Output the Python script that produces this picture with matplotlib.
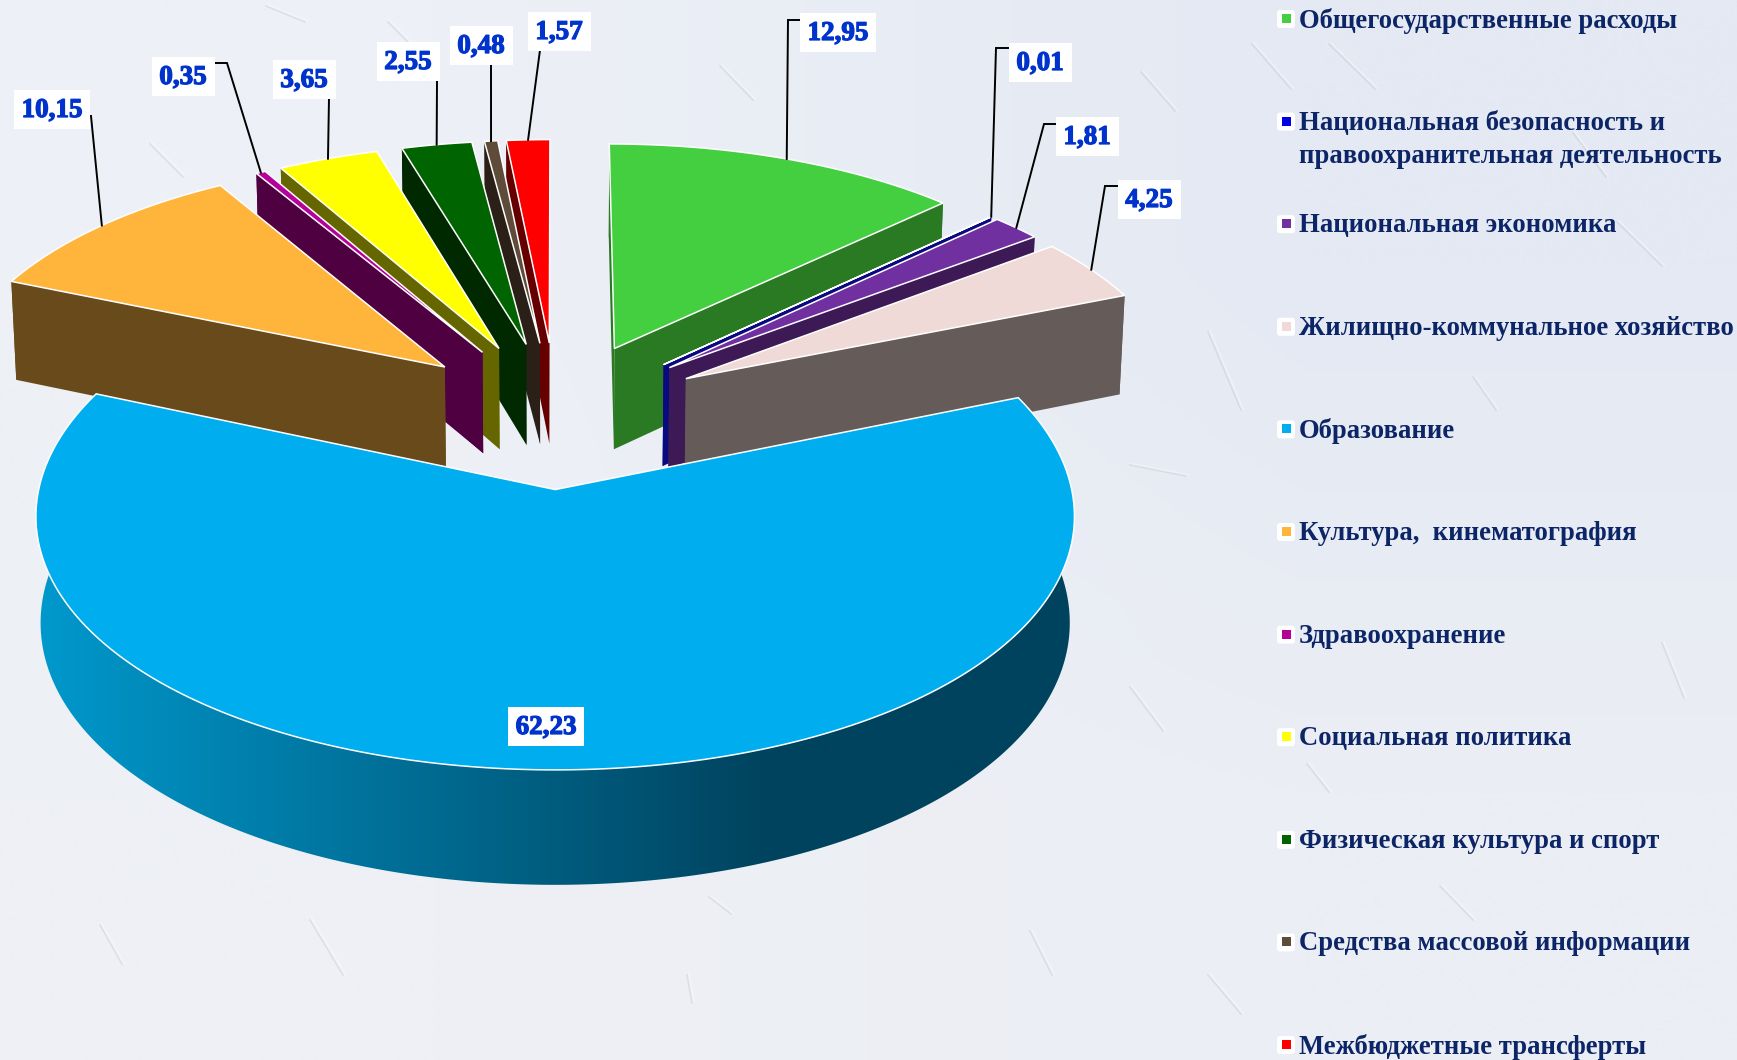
# -*- coding: utf-8 -*-
# Exploded 3D pie of budget shares, drawn by hand on a pixel-sized axes

import numpy as np
import matplotlib
matplotlib.use("Agg")
import matplotlib.pyplot as plt
import matplotlib.patheffects as pe
from matplotlib.colors import LinearSegmentedColormap, to_rgb
from matplotlib.patches import Polygon, Rectangle, FancyBboxPatch

# Chart data
categories = ["Общегосударственные расходы",
              "Национальная безопасность и\nправоохранительная деятельность",
              "Национальная экономика",
              "Жилищно-коммунальное хозяйство",
              "Образование",
              "Культура,  кинематография",
              "Здравоохранение",
              "Социальная политика",
              "Физическая культура и спорт",
              "Средства массовой информации",
              "Межбюджетные трансферты"]
values = [12.95, 0.01, 1.81, 4.25, 62.23, 10.15, 0.35, 3.65, 2.55, 0.48, 1.57]
value_labels = ["12,95", "0,01", "1,81", "4,25", "62,23", "10,15", "0,35", "3,65", "2,55", "0,48", "1,57"]

# Slice colours
top_colors = ["#43CF3F", "#0000E6", "#7030A0", "#F0DAD8", "#00AEEF", "#FFB53B",
              "#B5009A", "#FFFF00", "#006400", "#5F4B3A", "#FF0000"]
side_colors = ["#2A7A24", "#0A0A80", "#3D1A56", "#655B59", "#00435E", "#694A1B",
               "#4F0040", "#666600", "#002900", "#2B2018", "#660000"]

# Label boxes and leader line bends, in pixels
label_x = [838, 1040, 1087, 1149, 546, 52, 183, 304, 408, 481, 559]
label_y = [32, 62, 136, 199, 726, 109, 76, 79, 61, 45, 31]
leader_bends = [[(788, 20), (800, 20)], [(996, 48), (1008, 48)], [(1044, 124), (1056, 124)],
                [(1105, 186), (1117, 186)], None, [(91, 116)], [(227, 63), (215, 63)],
                [(329, 98)], [(437, 81)], [(491, 65)], [(540, 50), (552, 50)]]

# Faint brush marks of the paper background, in pixels
strokes = [(1141, 72, 1175, 111), (150, 144, 183, 177), (709, 897, 731, 914), (100, 925, 122, 964),
           (1208, 332, 1241, 410), (1473, 377, 1496, 410), (1662, 643, 1684, 698), (1307, 764, 1329, 792),
           (1252, 44, 1291, 89), (1329, 44, 1375, 89), (1573, 133, 1606, 177), (1617, 222, 1662, 266),
           (1130, 465, 1186, 476), (1130, 687, 1163, 731), (1208, 975, 1241, 1014), (388, 22, 421, 55),
           (266, 6, 305, 22), (720, 66, 753, 100), (687, 975, 692, 1003), (310, 920, 343, 975),
           (1030, 931, 1052, 975), (1440, 886, 1473, 920)]

# Projection of the pie plane to the screen
W, H = 1737, 1060
CX, CY = 556.5, 414
RX, RY = 501, 246
PERSP_X = 0.10
DEPTH = 103
EXPLODE = 0.30


def project(px, py, down=False):
    persp_y = np.where(py > 0, 0.127, 0.078)
    x = CX + RX * px / (1 + PERSP_X * py)
    y = CY - RY * py / (1 + persp_y * py)
    if down:
        x = CX + (x - CX) * 0.991
        y = y + DEPTH / (1 + 0.08 * py)
    return np.array([x, y]).T


fig = plt.figure(figsize=(W / 100, H / 100), dpi=100)
ax = fig.add_axes([0, 0, 1, 1])
ax.axis("off")

# Background, blended from the four corner colours
corners = np.array([[to_rgb("#EDF0F6"), to_rgb("#E4E9F3")],
                    [to_rgb("#EEF0F5"), to_rgb("#EBEEF4")]])
ax.imshow(corners, interpolation="bilinear", extent=[0, W, H, 0], aspect="auto", zorder=0)
for x0, y0, x1, y1 in strokes:
    ax.plot([x0 + 2, x1 + 2], [y0 - 1, y1 - 1], color="white", lw=1.6, alpha=0.3, zorder=0.5)
    ax.plot([x0, x1], [y0, y1], color="#B4BAC6", lw=1.2, alpha=0.3, zorder=0.5)

# Slice angles, clockwise from north
vals = np.array(values)
edges = np.radians(np.concatenate([[0], np.cumsum(vals)]) / vals.sum() * 360)
mids = (edges[:-1] + edges[1:]) / 2
apex_x = EXPLODE * np.sin(mids)
apex_y = EXPLODE * np.cos(mids)

# Painter's order: back slices first, big front slice last
order = np.argsort(np.abs(np.degrees(mids) - 360 * (mids > np.pi)))

z = 1
for i in order:
    t = np.linspace(edges[i], edges[i + 1], max(int((edges[i + 1] - edges[i]) * 90), 4))
    rx = apex_x[i] + np.sin(t)
    ry = apex_y[i] + np.cos(t)
    top = project(rx, ry)
    low = project(rx, ry, down=True)

    # outer wall
    wall = Polygon(np.vstack([top, low[::-1]]), closed=True, facecolor=side_colors[i],
                   edgecolor="none", zorder=z)
    if values[i] == max(values):
        wall.set_facecolor("none")
        ax.add_patch(wall)
        shade = LinearSegmentedColormap.from_list(
            "shade", [(0, "#0098CC"), (0.705, "#00435E"), (1, "#00435E")])
        im = ax.imshow(np.linspace(0, 1, 512).reshape(1, -1), cmap=shade,
                       extent=[40, 1075, H, 0], aspect="auto", zorder=z)
        im.set_clip_path(wall)
    else:
        ax.add_patch(wall)

    # the two cut faces, the one turned to the viewer goes last
    ax0 = project(apex_x[i], apex_y[i])
    ax1 = project(apex_x[i], apex_y[i], down=True)
    faces = [(top[0], low[0]), (top[-1], low[-1])]
    if mids[i] > np.pi:
        faces = faces[::-1]
    for a, b in faces:
        ax.add_patch(Polygon([ax0, a, b, ax1], closed=True, facecolor=side_colors[i],
                             edgecolor="none", zorder=z))

    # top face
    ax.add_patch(Polygon(np.vstack([[ax0], top]), closed=True, facecolor=top_colors[i],
                         edgecolor="white", linewidth=1.1, zorder=z, joinstyle="miter"))
    z += 1

# Value labels with leader lines
for i, txt in enumerate(value_labels):
    if leader_bends[i] is not None:
        start = project(apex_x[i] + np.sin(mids[i]), apex_y[i] + np.cos(mids[i]))
        pts = [tuple(start)] + leader_bends[i]
        ax.plot([p[0] for p in pts], [p[1] for p in pts], color="black", lw=1.4,
                solid_joinstyle="miter", zorder=20)
    w = 76 if len(txt) == 5 else 63
    ax.add_patch(Rectangle((label_x[i] - w / 2, label_y[i] - 19.5), w, 39, facecolor="white",
                           edgecolor="none", zorder=21))
    ax.text(label_x[i], label_y[i] + 1.5, txt, color="#0033CC", fontsize=19.5, fontweight="bold",
            family="Liberation Serif", ha="center", va="center", zorder=22,
            path_effects=[pe.withStroke(linewidth=0.9, foreground="#0033CC")])

# Legend
for i, name in enumerate(categories):
    y = 19 + i * 102.6
    ax.add_patch(FancyBboxPatch((1279, y - 7), 14, 14, boxstyle="round,pad=2,rounding_size=3",
                                facecolor="white", edgecolor="none", zorder=20))
    ax.add_patch(Rectangle((1281.5, y - 5), 9, 9, facecolor=top_colors[i], edgecolor="none", zorder=21))
    ax.text(1299, y - 11, name, color="#0C2566", fontsize=19.2, fontweight="bold",
            family="Liberation Serif", ha="left", va="top", linespacing=1.42, zorder=21)

ax.set_xlim(0, W)
ax.set_ylim(H, 0)
fig.savefig("out.png", dpi=100)
